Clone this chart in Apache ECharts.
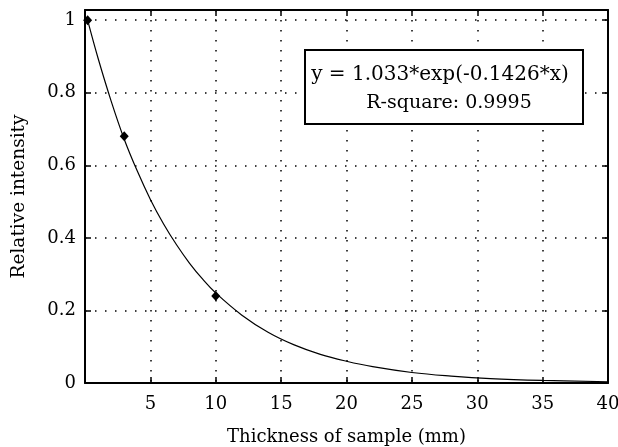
<!DOCTYPE html>
<html>
<head>
<meta charset="utf-8">
<script src="https://cdn.jsdelivr.net/npm/echarts@6/dist/echarts.min.js"></script>
<style>
  html, body { margin: 0; padding: 0; background: #fff; }
  #chart { width: 618px; height: 447px; }
</style>
</head>
<body>
<div id="chart"></div>
<script>
  // measured points
  const pointX = [0.2, 3, 10];
  const pointY = [1.0, 0.68, 0.24];

  // fitted curve
  const curveX = [0.2, 1, 2, 3, 4, 5, 6, 7, 8, 9, 10, 12, 14, 16, 18, 20, 22, 25, 28, 31, 35, 40];
  const curveY = [1.0, 0.895, 0.777, 0.672, 0.584, 0.506, 0.439, 0.381, 0.33, 0.286, 0.248, 0.187, 0.14, 0.105, 0.079, 0.06, 0.045, 0.029, 0.019, 0.012, 0.007, 0.0035];

  const xTicks = [5, 10, 15, 20, 25, 30, 35, 40];
  const yTicks = [0, 0.2, 0.4, 0.6, 0.8, 1];

  const fitText = 'y = 1.033*exp(-0.1426*x)';
  const rsqText = 'R-square: 0.9995';

  const FONT = 'DejaVu Serif';
  const chart = echarts.init(document.getElementById('chart'));

  const frameLine = { show: true, onZero: false, lineStyle: { color: '#000', width: 2 } };
  const inTick = { show: true, inside: true, length: 6, lineStyle: { color: '#000', width: 1.5 } };
  const dotted = { show: true, lineStyle: { color: '#000', width: 1.5, type: [1.5, 8.5] } };

  const option = {
    animation: false,
    backgroundColor: '#fff',
    grid: { left: 85, right: 10, top: 10, bottom: 64, outerBoundsMode: 'none' },
    xAxis: [
      {
        type: 'value', min: 0, max: 40, interval: 5, position: 'bottom',
        name: 'Thickness of sample (mm)', nameLocation: 'middle', nameGap: 45,
        nameTextStyle: { fontFamily: FONT, fontSize: 18, color: '#000' },
        axisLine: frameLine, axisTick: inTick, splitLine: dotted,
        axisLabel: {
          fontFamily: FONT, fontSize: 18, color: '#000', margin: 12,
          formatter: v => (xTicks.includes(v) ? String(v) : '')
        }
      },
      {
        type: 'value', min: 0, max: 40, interval: 5, position: 'top',
        axisLine: frameLine, axisTick: inTick, splitLine: { show: false }, axisLabel: { show: false }
      }
    ],
    yAxis: [
      {
        type: 'value', min: 0, max: 1.028, interval: 0.2, position: 'left',
        name: 'Relative intensity', nameLocation: 'middle', nameGap: 56,
        nameTextStyle: { fontFamily: FONT, fontSize: 18.5, color: '#000' },
        axisLine: frameLine, axisTick: inTick, splitLine: dotted,
        axisLabel: {
          fontFamily: FONT, fontSize: 18, color: '#000', margin: 9, showMaxLabel: false,
          formatter: v => {
            const t = yTicks.find(k => Math.abs(k - v) < 1e-6);
            return t === undefined ? '' : String(t);
          }
        }
      },
      {
        type: 'value', min: 0, max: 1.028, interval: 0.2, position: 'right',
        axisLine: frameLine, axisTick: inTick, splitLine: { show: false }, axisLabel: { show: false }
      }
    ],
    series: [
      {
        type: 'line',
        data: curveX.map((x, i) => [x, curveY[i]]),
        smooth: 0.4,
        showSymbol: false,
        lineStyle: { color: '#000', width: 1.2 },
        z: 3
      },
      {
        type: 'scatter',
        data: pointX.map((x, i) => [x, pointY[i]]),
        symbol: 'diamond',
        symbolSize: [9, 10],
        itemStyle: { color: '#000', opacity: 1 },
        z: 4
      }
    ],
    graphic: [
      {
        type: 'rect', z: 10,
        shape: { x: 305, y: 50, width: 278, height: 74 },
        style: { fill: '#fff', stroke: '#000', lineWidth: 2 }
      },
      {
        type: 'text', z: 11, x: 440, y: 75,
        style: { text: fitText, fontFamily: FONT, fontSize: 20, fill: '#000', align: 'center', verticalAlign: 'middle' }
      },
      {
        type: 'text', z: 11, x: 449, y: 103,
        style: { text: rsqText, fontFamily: FONT, fontSize: 19, fill: '#000', align: 'center', verticalAlign: 'middle' }
      }
    ]
  };

  chart.setOption(option);
</script>
</body>
</html>
